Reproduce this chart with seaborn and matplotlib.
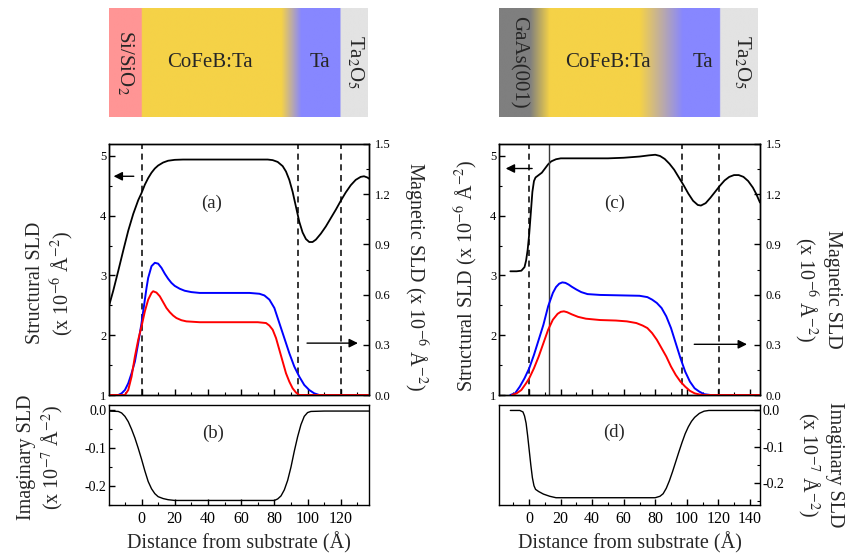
import numpy as np
import seaborn as sns
import matplotlib.pyplot as plt
import matplotlib.colors as mcolors
from matplotlib.ticker import MultipleLocator, FormatStrFormatter

# ---------- sample 1: CoFeB:Ta on Si/SiO2 (panels a, b) ----------
z_a = [-20, -17, -14, -11, -8, -5, -2, 0, 2, 4, 6, 8, 10, 13, 16, 20, 25, 30, 40, 50, 60, 70,
       76, 79, 82, 85, 87, 89, 91, 93, 95, 97, 99, 101, 103, 105, 108, 111, 114, 117, 120, 123,
       126, 129, 132, 134, 136, 137]
nuc_a = [2.45, 2.75, 3.08, 3.42, 3.75, 4.03, 4.26, 4.38, 4.52, 4.63, 4.72, 4.79, 4.84, 4.89,
         4.92, 4.935, 4.94, 4.94, 4.94, 4.94, 4.94, 4.94, 4.94, 4.93, 4.90, 4.83, 4.74, 4.60,
         4.40, 4.15, 3.90, 3.72, 3.61, 3.56, 3.56, 3.60, 3.70, 3.82, 3.96, 4.10, 4.25, 4.39,
         4.51, 4.60, 4.65, 4.66, 4.64, 4.62]

zu_a = [-20, -14, -12, -10, -8, -6, -4, -2, 0, 2, 3, 4, 6, 8, 10, 12, 14, 16, 18, 20, 23, 26,
        30, 35, 50, 65, 71, 74, 77, 80, 83, 86, 89, 92, 95, 98, 101, 104, 107, 137]
up_a = [0, 0, 0.01, 0.03, 0.07, 0.13, 0.20, 0.31, 0.43, 0.57, 0.64, 0.70, 0.77, 0.79, 0.785,
        0.76, 0.725, 0.695, 0.67, 0.652, 0.635, 0.623, 0.615, 0.61, 0.61, 0.61, 0.605, 0.595,
        0.57, 0.52, 0.43, 0.34, 0.25, 0.17, 0.11, 0.06, 0.03, 0.01, 0.0, 0.0]

zd_a = [-20, -10, -8, -6, -4, -2, 0, 2, 4, 6, 7, 9, 11, 13, 15, 17, 19, 21, 24, 27, 35, 70, 75,
        77, 79, 81, 83, 85, 87, 89, 91, 93, 95, 137]
down_a = [0, 0, 0.03, 0.11, 0.23, 0.33, 0.41, 0.50, 0.57, 0.61, 0.62, 0.612, 0.59, 0.555,
          0.52, 0.495, 0.475, 0.46, 0.447, 0.44, 0.435, 0.435, 0.43, 0.415, 0.39, 0.34, 0.27,
          0.20, 0.13, 0.08, 0.04, 0.015, 0.0, 0.0]

zi_a = [-20, -14, -12, -10, -8, -6, -4, -2, 0, 2, 4, 6, 8, 10, 13, 16, 20, 80, 82, 84, 86, 88,
        90, 92, 94, 96, 98, 100, 102, 110, 137]
im_a = [-0.002, -0.003, -0.007, -0.016, -0.03, -0.05, -0.073, -0.10, -0.129, -0.16, -0.188,
        -0.207, -0.22, -0.228, -0.233, -0.236, -0.238, -0.238, -0.234, -0.226, -0.21, -0.185,
        -0.15, -0.108, -0.07, -0.038, -0.016, -0.006, -0.003, -0.002, -0.002]

iface_a = [0, 94, 120]

# ---------- sample 2: CoFeB:Ta on GaAs(001) (panels c, d) ----------
z_c = [-12, -8, -5, -3, -2, -1, 0, 1, 2, 3, 4, 6, 8, 10, 12, 14, 17, 20, 30, 50, 60, 70, 76,
       80, 83, 86, 89, 92, 95, 98, 101, 104, 107, 109, 112, 115, 118, 121, 124, 127, 130, 133,
       136, 139, 142, 144, 146.5]
nuc_c = [3.07, 3.07, 3.08, 3.14, 3.25, 3.43, 3.70, 4.05, 4.40, 4.58, 4.64, 4.68, 4.72, 4.79,
         4.86, 4.91, 4.945, 4.96, 4.96, 4.96, 4.97, 4.99, 5.01, 5.02, 5.00, 4.95, 4.87, 4.77,
         4.64, 4.51, 4.37, 4.25, 4.18, 4.17, 4.21, 4.30, 4.40, 4.50, 4.59, 4.65, 4.68, 4.68,
         4.65, 4.58, 4.47, 4.37, 4.22]

zu_c = [-12, -9, -6, -3, 0, 3, 6, 9, 12, 15, 17, 19, 21, 23, 25, 27, 30, 33, 37, 45, 60, 70,
        75, 78, 81, 84, 87, 90, 93, 96, 99, 102, 105, 108, 111, 115, 146.5]
up_c = [0, 0.01, 0.05, 0.10, 0.16, 0.24, 0.33, 0.42, 0.53, 0.61, 0.645, 0.665, 0.673, 0.67,
        0.66, 0.647, 0.63, 0.615, 0.603, 0.598, 0.595, 0.593, 0.585, 0.57, 0.55, 0.52, 0.47,
        0.40, 0.31, 0.22, 0.14, 0.08, 0.04, 0.02, 0.005, 0.0, 0.0]

zd_c = [-11, -8, -5, -2, 0, 3, 6, 9, 12, 15, 18, 20, 22, 24, 27, 31, 36, 45, 55, 62, 68, 72,
        75, 78, 81, 84, 87, 90, 93, 96, 99, 102, 105, 108, 111, 146.5]
down_c = [0, 0.01, 0.03, 0.07, 0.10, 0.16, 0.23, 0.31, 0.39, 0.45, 0.485, 0.497, 0.5, 0.495,
          0.482, 0.467, 0.456, 0.448, 0.445, 0.44, 0.43, 0.415, 0.40, 0.37, 0.33, 0.28, 0.23,
          0.17, 0.12, 0.08, 0.05, 0.025, 0.01, 0.003, 0.0, 0.0]

zi_c = [-12, -6, -4, -3, -2, -1, 0, 1, 2, 3, 4, 6, 9, 13, 17, 80, 83, 85, 87, 89, 91, 93, 95,
        97, 99, 101, 103, 105, 108, 111, 114, 146.5]
im_c = [0.0, 0.0, -0.004, -0.015, -0.035, -0.07, -0.11, -0.15, -0.185, -0.207, -0.217, -0.223,
        -0.23, -0.236, -0.24, -0.24, -0.236, -0.229, -0.214, -0.193, -0.168, -0.141, -0.114,
        -0.088, -0.064, -0.045, -0.03, -0.019, -0.008, -0.002, 0.0, 0.0]

iface_c = [0, 96.7, 120.4]
solid_c = 12.7

# layer stacks drawn above each sample (positions in Angstrom, colours)
stack_a_pos = [-19.6, 0, 0.01, 84, 96, 119.5, 119.6, 136]
stack_a_col = ['#FF9595', '#FF9595', '#F5D247', '#F5D247', '#8787FF', '#8787FF', '#E3E3E3', '#E3E3E3']
stack_a_txt = [(-10, 'Si/SiO$_2$', 270), (41, 'CoFeB:Ta', 0), (107, 'Ta', 0), (128.5, 'Ta$_2$O$_5$', 270)]

stack_c_pos = [-19.2, 0.5, 13, 70, 97.5, 121, 121.1, 145]
stack_c_col = ['#7F7F7F', '#7F7F7F', '#F5D247', '#F5D247', '#8787FF', '#8787FF', '#E3E3E3', '#E3E3E3']
stack_c_txt = [(-7, 'GaAs(001)', 270), (50, 'CoFeB:Ta', 0), (110, 'Ta', 0), (135, 'Ta$_2$O$_5$', 270)]

unit6 = '(x 10$^{-6}$ Å$^{-2}$)'
unit7 = '(x 10$^{-7}$ Å$^{-2}$)'

sns.set_style('ticks')
plt.rcParams['font.family'] = ['Liberation Serif', 'DejaVu Serif']
plt.rcParams['mathtext.fontset'] = 'stix'
plt.rcParams['axes.unicode_minus'] = False
plt.rcParams['axes.linewidth'] = 1.0
plt.rcParams['axes.edgecolor'] = 'black'

W, H = 848, 554


def frac(x0, y0, x1, y1):
    return [x0 / W, 1 - y1 / H, (x1 - x0) / W, (y1 - y0) / H]


def style_ticks(ax, size):
    ax.tick_params(which='both', direction='in', colors='black', labelsize=size, pad=2)
    ax.tick_params(which='major', length=4, width=1)
    ax.tick_params(which='minor', length=2.5, width=0.8)


def draw_stack(ax, pos, cols, texts):
    xs = np.linspace(pos[0], pos[-1], 900)
    rgb = np.array([mcolors.to_rgb(c) for c in cols])
    img = np.stack([np.interp(xs, pos, rgb[:, k]) for k in range(3)], axis=-1)[None, :, :]
    ax.imshow(img, extent=(pos[0], pos[-1], 0, 1), aspect='auto', interpolation='bilinear')
    ax.set_xlim(pos[0], pos[-1])
    ax.set_ylim(0, 1)
    ax.axis('off')
    for x, t, rot in texts:
        ax.text(x, 0.5, t, rotation=rot, ha='center', va='center', fontsize=15)


def draw_top(ax, xlim, z, nuc, zu, up, zd, down, iface, tag, tag_x, arrows):
    axr = ax.twinx()
    sns.lineplot(x=z, y=nuc, ax=ax, color='black', lw=1.3)
    sns.lineplot(x=zu, y=up, ax=axr, color='#0000FF', lw=1.4)
    sns.lineplot(x=zd, y=down, ax=axr, color='#FF0000', lw=1.4)
    for xv in iface:
        ax.axvline(xv, color='black', ls=(0, (4, 3)), lw=1.1)
    ax.set_xlim(xlim)
    ax.set_ylim(1, 5.2)
    axr.set_ylim(0, 1.5)
    ax.xaxis.set_major_locator(MultipleLocator(20))
    ax.xaxis.set_minor_locator(MultipleLocator(10))
    ax.yaxis.set_major_locator(MultipleLocator(1))
    ax.yaxis.set_minor_locator(MultipleLocator(0.5))
    axr.yaxis.set_major_locator(MultipleLocator(0.3))
    axr.yaxis.set_minor_locator(MultipleLocator(0.15))
    axr.yaxis.set_major_formatter(FormatStrFormatter('%.1f'))
    style_ticks(ax, 9)
    style_ticks(axr, 9)
    axr.tick_params(pad=4)
    ax.tick_params(labelbottom=False)
    ax.set_xlabel('')
    ax.text(tag_x, 4.2, tag, ha='center', va='center', fontsize=13.5)
    (l0, l1, ly), (r0, r1, ry) = arrows
    ax.annotate('', xy=(l1, ly), xytext=(l0, ly),
                arrowprops=dict(arrowstyle='-|>', color='black', lw=1, mutation_scale=13))
    axr.annotate('', xy=(r1, ry), xytext=(r0, ry),
                 arrowprops=dict(arrowstyle='-|>', color='black', lw=1, mutation_scale=13))
    return axr


def draw_imag(ax, xlim, ylim, z, im, tag, tag_x):
    sns.lineplot(x=z, y=im, ax=ax, color='black', lw=1.0)
    ax.set_xlim(xlim)
    ax.set_ylim(ylim)
    ax.xaxis.set_major_locator(MultipleLocator(20))
    ax.xaxis.set_minor_locator(MultipleLocator(10))
    ax.yaxis.set_major_locator(MultipleLocator(0.1))
    ax.yaxis.set_minor_locator(MultipleLocator(0.05))
    ax.yaxis.set_major_formatter(FormatStrFormatter('%.1f'))
    style_ticks(ax, 10)
    ax.tick_params(axis='x', labelsize=11.5, pad=4)
    ax.text(tag_x, -0.06, tag, ha='center', va='center', fontsize=13.5)
    ax.set_xlabel('Distance from substrate (Å)', fontsize=14.5, ha='center', va='center')
    ax.xaxis.set_label_coords(0.5, -0.38)


fig = plt.figure(figsize=(W / 100, H / 100), dpi=100)

# left sample
bar_a = fig.add_axes(frac(109, 8, 368, 117))
ax_a = fig.add_axes(frac(109, 144, 369, 395))
ax_b = fig.add_axes(frac(109, 405, 369, 505))
draw_stack(bar_a, stack_a_pos, stack_a_col, stack_a_txt)
axr_a = draw_top(ax_a, (-19.6, 137), z_a, nuc_a, zu_a, up_a, zd_a, down_a, iface_a, '(a)', 42,
                 [(-3, -18.5, 4.66), (98, 132, 0.31)])
draw_imag(ax_b, (-19.6, 137), (-0.25, 0.014), zi_a, im_a, '(b)', 43)

ax_a.set_ylabel('Structural SLD\n' + unit6, fontsize=14.5, ha='center', va='center')
ax_a.yaxis.set_label_coords(-0.223, 0.446)
axr_a.set_ylabel('Magnetic SLD ' + unit6, fontsize=14.5, rotation=270, ha='center', va='center')
axr_a.yaxis.set_label_coords(1.177, 0.472)
ax_b.set_ylabel('Imaginary SLD\n' + unit7, fontsize=14.5, ha='center', va='center')
ax_b.yaxis.set_label_coords(-0.262, 0.48)

# right sample
bar_c = fig.add_axes(frac(499, 8, 758, 117))
ax_c = fig.add_axes(frac(499, 144, 760, 395))
ax_d = fig.add_axes(frac(499, 405, 760, 505))
draw_stack(bar_c, stack_c_pos, stack_c_col, stack_c_txt)
axr_c = draw_top(ax_c, (-19.2, 146.5), z_c, nuc_c, zu_c, up_c, zd_c, down_c, iface_c, '(c)', 54,
                 [(3.6, -16.7, 4.79), (103, 140, 0.303)])
ax_c.axvline(solid_c, color='#3A3A3A', lw=1.0)
draw_imag(ax_d, (-19.2, 146.5), (-0.26, 0.015), zi_c, im_c, '(d)', 54)
ax_d.yaxis.tick_right()
ax_d.yaxis.set_label_position('right')

ax_c.set_ylabel('Structural SLD ' + unit6, fontsize=14.5, ha='center', va='center')
ax_c.yaxis.set_label_coords(-0.126, 0.476)
axr_c.set_ylabel('Magnetic SLD\n' + unit6, fontsize=14.5, rotation=270, ha='center', va='center')
axr_c.yaxis.set_label_coords(1.218, 0.422)
ax_d.set_ylabel('Imaginary SLD\n' + unit7, fontsize=14.5, rotation=270, ha='center', va='center')
ax_d.yaxis.set_label_coords(1.23, 0.40)

fig.savefig('out.png', dpi=100)
